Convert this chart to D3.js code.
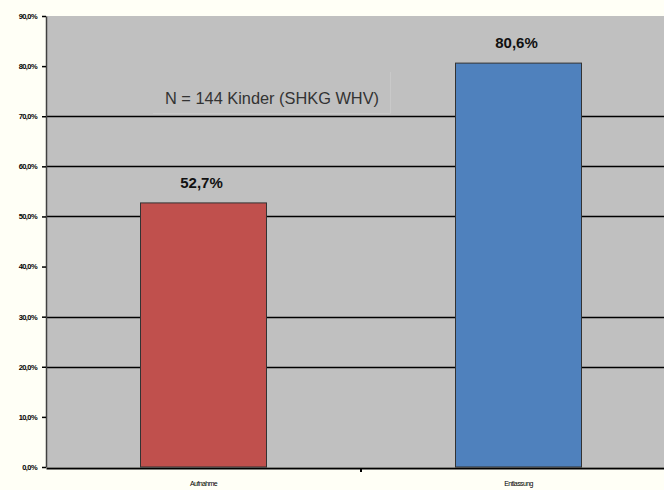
<!DOCTYPE html>
<html>
<head>
<meta charset="utf-8">
<script src="https://cdn.jsdelivr.net/npm/d3@7"></script>
<style>
  body { margin: 0; background: #fffff6; }
  svg { display: block; font-family: "Liberation Sans", Arial, sans-serif; }
</style>
</head>
<body>
<div id="chart"></div>
<script>
const categories = ["Aufnahme", "Entlassung"];
const values = [52.7, 80.6];
const valueLabels = ["52,7%", "80,6%"];
const barColors = ["#c0504d", "#4f81bd"];
const yTicks = [0, 10, 20, 30, 40, 50, 60, 70, 80, 90];
const gridValues = [20, 30, 50, 60, 70];
const note = "N = 144 Kinder (SHKG WHV)";

const width = 664,
  height = 490,
  plotLeft = 46,
  plotRight = 676,
  plotTop = 16,
  plotBottom = 467;

const svg = d3
  .select("#chart")
  .append("svg")
  .attr("width", width)
  .attr("height", height);

svg
  .append("rect")
  .attr("x", 0)
  .attr("y", 0)
  .attr("width", width)
  .attr("height", height)
  .attr("fill", "#fffff6");

const yScale = d3.scaleLinear().domain([0, 90]).range([plotBottom, plotTop]);

const xScale = d3.scaleBand().domain(categories).range([plotLeft, plotRight]);

// plot area
svg
  .append("rect")
  .attr("x", plotLeft)
  .attr("y", plotTop)
  .attr("width", plotRight - plotLeft)
  .attr("height", plotBottom - plotTop)
  .attr("fill", "#c0c0c0");

svg
  .selectAll("line.grid")
  .data(gridValues)
  .enter()
  .append("line")
  .attr("class", "grid")
  .attr("x1", plotLeft)
  .attr("x2", plotRight)
  .attr("y1", (d) => Math.round(yScale(d)) + 0.5)
  .attr("y2", (d) => Math.round(yScale(d)) + 0.5)
  .attr("stroke", "#000")
  .attr("stroke-width", 1.5);

// note box (faint edges only at bottom and right)
const noteG = svg.append("g");
noteG
  .append("path")
  .attr("d", "M153,113.5H390.5V72")
  .attr("fill", "none")
  .attr("stroke", "#c9c9c9")
  .attr("stroke-width", 1);
noteG
  .append("text")
  .text(note)
  .attr("x", 272)
  .attr("y", 104)
  .attr("text-anchor", "middle")
  .attr("font-size", 16.5)
  .attr("textLength", 214)
  .attr("lengthAdjust", "spacingAndGlyphs")
  .attr("fill", "#333");

const barW = xScale.bandwidth() * 0.4;

svg
  .selectAll("rect.bar")
  .data(values)
  .enter()
  .append("rect")
  .attr("class", "bar")
  .attr("x", (d, i) => xScale(categories[i]) + xScale.bandwidth() / 2 - barW / 2)
  .attr("y", (d) => yScale(d))
  .attr("width", barW)
  .attr("height", (d) => plotBottom - yScale(d))
  .attr("fill", (d, i) => barColors[i])
  .attr("stroke", "#333")
  .attr("stroke-width", 1);

svg
  .selectAll("text.val")
  .data(values)
  .enter()
  .append("text")
  .attr("class", "val")
  .text((d, i) => valueLabels[i])
  .attr("x", (d, i) => xScale(categories[i]) + xScale.bandwidth() / 2 - 2)
  .attr("y", (d) => yScale(d) - 15)
  .attr("text-anchor", "middle")
  .attr("font-size", 15)
  .attr("font-weight", "bold")
  .attr("fill", "#111");

// y axis
const yAxis = d3
  .axisLeft(yScale)
  .tickValues(yTicks)
  .tickSize(4)
  .tickSizeOuter(0)
  .tickPadding(5)
  .tickFormat((d) => d.toFixed(1).replace(".", ",") + "%");

const yG = svg
  .append("g")
  .attr("transform", "translate(" + plotLeft + ",0)")
  .call(yAxis);
yG.select(".domain").attr("stroke", "#404040").attr("stroke-width", 1.5);
yG.selectAll(".tick line").attr("stroke", "#000").attr("stroke-width", 1.5);
yG.selectAll(".tick text")
  .attr("font-size", 7.5)
  .attr("font-weight", "bold")
  .attr("letter-spacing", -0.6)
  .attr("font-family", "'Liberation Sans', Arial, sans-serif")
  .attr("fill", "#000");

// x axis
const xAxis = d3.axisBottom(xScale).tickSize(0).tickSizeOuter(0).tickPadding(13);

const xG = svg
  .append("g")
  .attr("transform", "translate(0," + (plotBottom + 1) + ")")
  .call(xAxis);
xG.select(".domain").attr("stroke", "#000").attr("stroke-width", 2);
xG.selectAll(".tick text")
  .attr("font-size", 7)
  .attr("letter-spacing", -0.6)
  .attr("font-family", "'Liberation Sans', Arial, sans-serif")
  .attr("fill", "#000");

// category boundary tick
xG.append("line")
  .attr("x1", xScale(categories[1]))
  .attr("x2", xScale(categories[1]))
  .attr("y1", 0)
  .attr("y2", 4)
  .attr("stroke", "#000")
  .attr("stroke-width", 2);
</script>
</body>
</html>
